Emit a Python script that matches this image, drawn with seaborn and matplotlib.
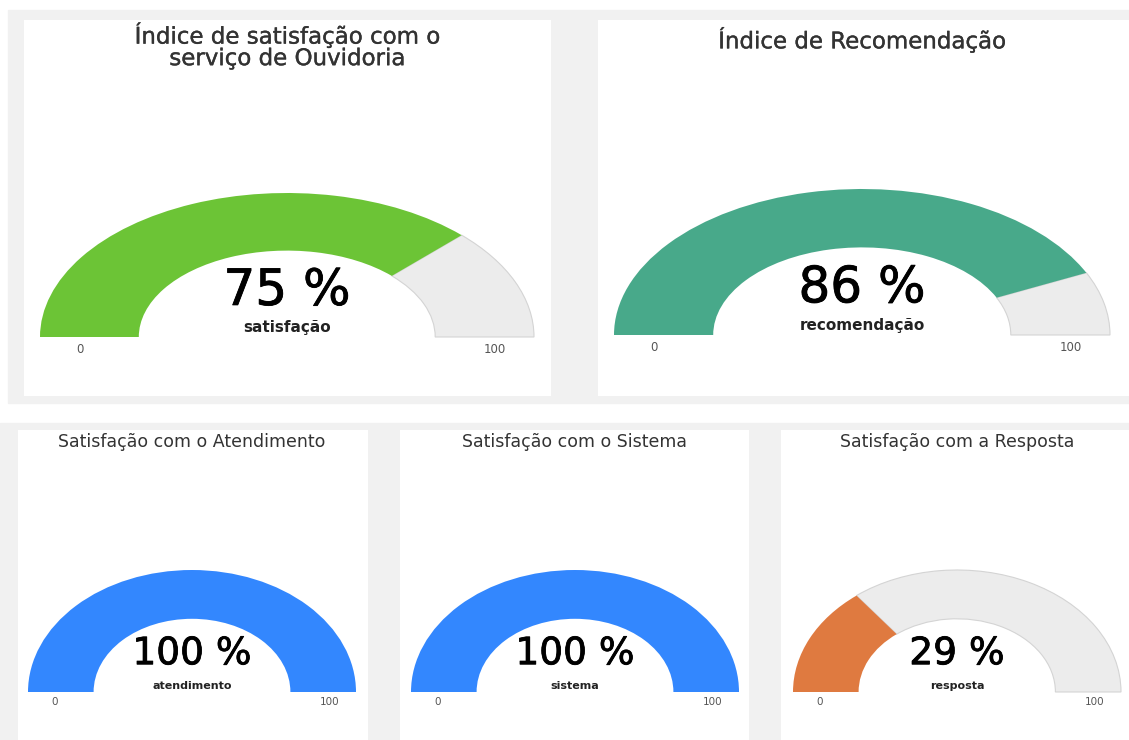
import matplotlib
matplotlib.use('Agg')
import matplotlib.pyplot as plt
import matplotlib.patheffects as pe
from matplotlib.patches import Wedge, Rectangle
import seaborn as sns

titles = ['Índice de satisfação com o\nserviço de Ouvidoria', 'Índice de Recomendação',
          'Satisfação com o Atendimento', 'Satisfação com o Sistema', 'Satisfação com a Resposta']
labels = ['satisfação', 'recomendação', 'atendimento', 'sistema', 'resposta']
values = [75, 86, 100, 100, 29]
colors = ['#6cc436', '#48a98a', '#3387fe', '#3387fe', '#df7a40']
scale_min = 0
scale_max = 100

W, H = 1129, 740
# panel rect (px, y down), gauge center and radii (px)
panels = [
    dict(rect=(24, 20, 551, 396), cx=287, cy=337, rx=247, ry=144, big=True),
    dict(rect=(598, 20, 1129, 396), cx=862, cy=335, rx=248, ry=146, big=True),
    dict(rect=(18, 430, 368, 740), cx=192, cy=692, rx=164, ry=122, big=False),
    dict(rect=(400, 430, 749, 740), cx=575, cy=692, rx=164, ry=122, big=False),
    dict(rect=(781, 430, 1129, 740), cx=957, cy=692, rx=164, ry=122, big=False),
]

sns.set_theme(style='white')
plt.rcParams['font.family'] = ['DejaVu Sans']

fig = plt.figure(figsize=(W / 100, H / 100), dpi=100, facecolor='white')
# grey page background bands
fig.patches.append(Rectangle((8 / W, 1 - 403 / H), 1, (403 - 10) / H,
                             transform=fig.transFigure, color='#f1f1f1', zorder=-5))
fig.patches.append(Rectangle((0, 0), 1, (H - 423) / H,
                             transform=fig.transFigure, color='#f1f1f1', zorder=-5))

thick = [pe.withStroke(linewidth=0.6, foreground='black')]
thin = [pe.withStroke(linewidth=0.25, foreground='#333333')]


def gauge(p, title, label, value, color):
    x0, y0, x1, y1 = p['rect']
    cx, cy, rx, ry = p['cx'], p['cy'], p['rx'], p['ry']
    ax = fig.add_axes([x0 / W, 1 - y1 / H, (x1 - x0) / W, (y1 - y0) / H])
    ax.set_facecolor('white')
    ax.set_xlim((x0 - cx) / rx, (x1 - cx) / rx)
    ax.set_ylim((cy - y1) / ry, (cy - y0) / ry)
    ax.set_xticks([])
    ax.set_yticks([])
    sns.despine(ax=ax, left=True, bottom=True)

    frac = (value - scale_min) / (scale_max - scale_min)
    split = 180 - 180 * frac
    if frac < 1:
        ax.add_patch(Wedge((0, 0), 1, 0, split, width=0.4,
                           facecolor='#ececec', edgecolor='#d4d4d4', lw=0.8))
    ax.add_patch(Wedge((0, 0), 1, split, 180, width=0.4,
                       facecolor=color, edgecolor='none'))

    if p['big']:
        ax.text(0, 2.02, title, ha='center', va='center', fontsize=16.5,
                color='#333333', linespacing=0.92, path_effects=thin)
        ax.text(0, 0.32, f'{value} %', ha='center', va='center', fontsize=36,
                color='black', path_effects=thick)
        ax.text(0, 0.065, label, ha='center', va='center', fontsize=11,
                fontweight='bold', color='#222222')
        tick_fs = 8.5
    else:
        ax.text(0, 2.05, title, ha='center', va='center', fontsize=12.5, color='#333333')
        ax.text(0, 0.31, f'{value} %', ha='center', va='center', fontsize=27,
                color='black', path_effects=thick)
        ax.text(0, 0.05, label, ha='center', va='center', fontsize=8,
                fontweight='bold', color='#222222')
        tick_fs = 7.5
    ax.text(-0.84, -0.085, str(scale_min), ha='center', va='center',
            fontsize=tick_fs, color='#555555')
    ax.text(0.84, -0.085, str(scale_max), ha='center', va='center',
            fontsize=tick_fs, color='#555555')


for p, t, l, v, c in zip(panels, titles, labels, values, colors):
    gauge(p, t, l, v, c)

fig.savefig('out.png', dpi=100, facecolor=fig.get_facecolor())
